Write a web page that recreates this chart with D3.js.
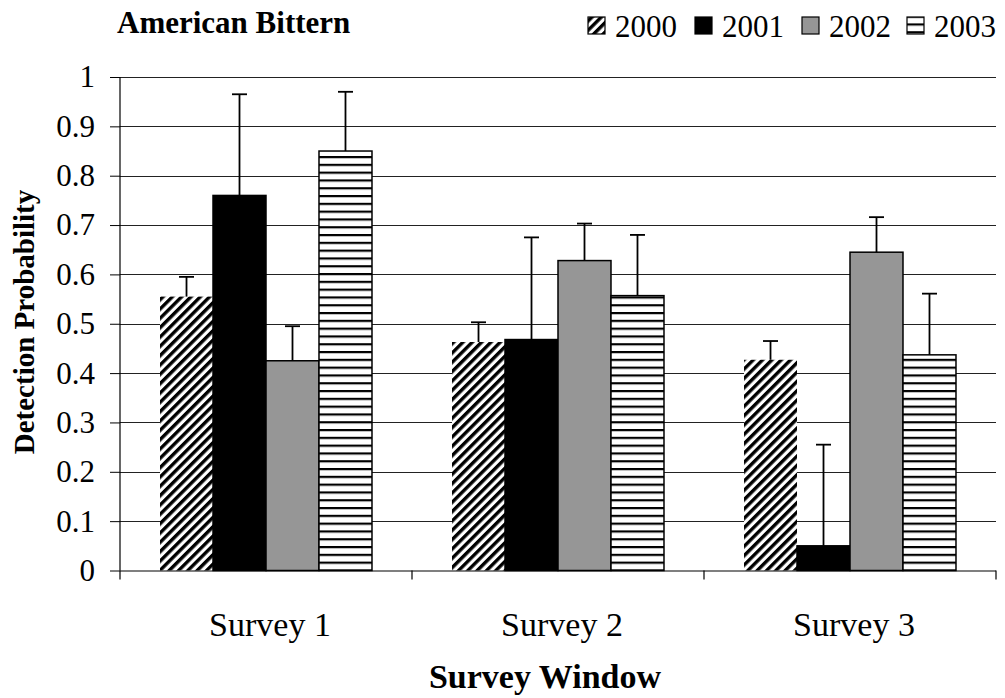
<!DOCTYPE html>
<html><head><meta charset="utf-8">
<script src="https://cdn.jsdelivr.net/npm/d3@7"></script>
<style>body{margin:0;background:#fff}svg{display:block}text{font-family:"Liberation Serif","Times New Roman",serif;fill:#000}</style>
</head><body><svg id="c" width="1005" height="698"></svg>
<script>
const categories = ["Survey 1", "Survey 2", "Survey 3"];
const years = ["2000", "2001", "2002", "2003"];
const v2000 = [0.555, 0.463, 0.427];
const v2001 = [0.760, 0.468, 0.050];
const v2002 = [0.425, 0.628, 0.645];
const v2003 = [0.850, 0.557, 0.437];
const e2000 = [0.040, 0.040, 0.038];
const e2001 = [0.205, 0.207, 0.205];
const e2002 = [0.070, 0.075, 0.071];
const e2003 = [0.120, 0.123, 0.124];
const yTicks = [0, 0.1, 0.2, 0.3, 0.4, 0.5, 0.6, 0.7, 0.8, 0.9, 1];
const yTickLabels = ["0", "0.1", "0.2", "0.3", "0.4", "0.5", "0.6", "0.7", "0.8", "0.9", "1"];

const values = [v2000, v2001, v2002, v2003];
const errors = [e2000, e2001, e2002, e2003];
const fills = ["url(#diag)", "#000", "#969696", "url(#horiz)"];

const svg = d3.select("#c");
const L = 120, R = 996, T = 77, B = 570.5;
const x0 = d3.scaleBand().domain(categories).range([L, R]).paddingInner(0).paddingOuter(0);
const x1 = d3.scaleBand().domain(years).range([0, x0.bandwidth()]).paddingInner(0).paddingOuter(0.755);
const y = d3.scaleLinear().domain([0, 1]).range([B, T]);

const defs = svg.append("defs");
const pd = defs.append("pattern").attr("id", "diag").attr("patternUnits", "userSpaceOnUse")
  .attr("width", 6.6).attr("height", 6.6).attr("patternTransform", "rotate(45)");
pd.append("rect").attr("width", 6.6).attr("height", 6.6).attr("fill", "#fff");
pd.append("rect").attr("x", 0).attr("width", 3.4).attr("height", 6.6).attr("fill", "#000");
const ph = defs.append("pattern").attr("id", "horiz").attr("patternUnits", "userSpaceOnUse")
  .attr("width", 8).attr("height", 7.8);
ph.append("rect").attr("width", 8).attr("height", 7.8).attr("fill", "#fff");
ph.append("rect").attr("y", 0).attr("width", 8).attr("height", 2.2).attr("fill", "#000");

// gridlines
svg.append("g").selectAll("line").data(yTicks.slice(1)).join("line")
  .attr("x1", L).attr("x2", R).attr("y1", d => Math.round(y(d)) + 0.5).attr("y2", d => Math.round(y(d)) + 0.5)
  .attr("stroke", "#222").attr("stroke-width", 1);

// bars
years.forEach((yr, i) => {
  const g = svg.append("g");
  g.selectAll("rect").data(categories).join("rect")
    .attr("x", c => x0(c) + x1(yr))
    .attr("y", (c, j) => y(values[i][j]))
    .attr("width", x1.bandwidth())
    .attr("height", (c, j) => y(0) - y(values[i][j]))
    .attr("fill", fills[i])
    .attr("stroke", i === 0 ? "none" : "#000").attr("stroke-width", 1.5);
  const cx = c => x0(c) + x1(yr) + x1.bandwidth() / 2;
  g.selectAll("line.v").data(categories).join("line").attr("class", "v")
    .attr("x1", cx).attr("x2", cx)
    .attr("y1", (c, j) => y(values[i][j]))
    .attr("y2", (c, j) => y(values[i][j] + errors[i][j]))
    .attr("stroke", "#000").attr("stroke-width", 1.8);
  g.selectAll("line.h").data(categories).join("line").attr("class", "h")
    .attr("x1", c => cx(c) - 7.5).attr("x2", c => cx(c) + 7.5)
    .attr("y1", (c, j) => y(values[i][j] + errors[i][j]))
    .attr("y2", (c, j) => y(values[i][j] + errors[i][j]))
    .attr("stroke", "#000").attr("stroke-width", 1.8);
});

// y axis
const ya = d3.axisLeft(y).tickValues(yTicks).tickFormat((d, i) => yTickLabels[i]).tickSize(10).tickPadding(15);
const gy = svg.append("g").attr("transform", `translate(${L},0)`).call(ya);
gy.select(".domain").attr("stroke", "#000").attr("stroke-width", 1.2).attr("d", `M0,${T}V${B}`);
gy.selectAll(".tick line").attr("stroke", "#000");
gy.selectAll("text").style("font-size", "31px");

// x axis
svg.append("line").attr("x1", L).attr("x2", R).attr("y1", B + 0.5).attr("y2", B + 0.5).attr("stroke", "#000").attr("stroke-width", 1.2);
const bounds = [L, ...categories.map(c => x0(c) + x0.bandwidth())];
svg.append("g").selectAll("line").data(bounds).join("line")
  .attr("x1", d => d).attr("x2", d => d).attr("y1", B).attr("y2", B + 9).attr("stroke", "#000").attr("stroke-width", 1.2);
svg.append("g").selectAll("text").data(categories).join("text")
  .attr("x", c => x0(c) + x0.bandwidth() / 2 + 4).attr("y", 636)
  .attr("text-anchor", "middle").style("font-size", "34px").text(c => c);

// titles
svg.append("text").attr("x", 545).attr("y", 688).attr("text-anchor", "middle")
  .style("font-size", "34px").attr("font-weight", "bold").text("Survey Window");
svg.append("text").attr("transform", "translate(34,322) rotate(-90)").attr("text-anchor", "middle")
  .style("font-size", "29px").attr("font-weight", "bold").text("Detection Probability");
svg.append("text").attr("x", 117).attr("y", 33).style("font-size", "31px").attr("font-weight", "bold").text("American Bittern");

// legend
const legX = [588, 695, 802, 907];
const lg = svg.append("g");
years.forEach((yr, i) => {
  lg.append("rect").attr("x", legX[i]).attr("y", 17).attr("width", 17).attr("height", 17)
    .attr("fill", fills[i]).attr("stroke", "#000").attr("stroke-width", 1.2);
  lg.append("text").attr("x", legX[i] + 27).attr("y", 37).style("font-size", "31px").text(yr);
});
</script></body></html>
